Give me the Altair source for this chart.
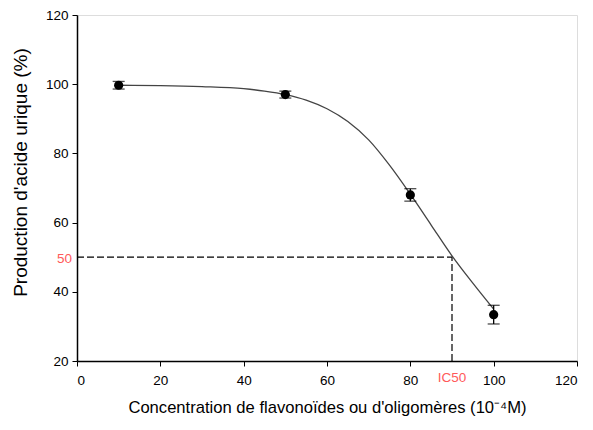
import altair as alt
import pandas as pd

# measured points
conc = [10, 50, 80, 100]
prod = [99.7, 97.0, 68.0, 33.4]
err = [1.1, 1.0, 1.8, 2.7]

# fitted curve
curve_x = [10, 20, 30, 40, 45, 50, 55, 60, 65, 70, 75, 80, 85, 90, 95, 100]
curve_y = [99.7, 99.6, 99.3, 98.7, 98.0, 97.0, 95.4, 92.9, 89.2, 83.9, 76.6, 68.2, 59.3, 50.4, 42.5, 35.0]

ic50_x = 90
ic50_y = 50

FONT = "Liberation Sans"
RED = "#ff5a5a"

pts = pd.DataFrame({"x": conc, "y": prod, "lo": [p - e for p, e in zip(prod, err)],
                    "hi": [p + e for p, e in zip(prod, err)]})
cur = pd.DataFrame({"x": curve_x, "y": curve_y})
hdash = pd.DataFrame({"x": [0], "x2": [ic50_x], "y": [ic50_y]})
vdash = pd.DataFrame({"x": [ic50_x], "y": [20], "y2": [ic50_y]})
lab50 = pd.DataFrame({"x": [0], "y": [ic50_y], "t": ["50"]})
labic = pd.DataFrame({"x": [ic50_x], "y": [20], "t": ["IC50"]})

xs = alt.Scale(domain=[0, 120], nice=False)
ys = alt.Scale(domain=[20, 120], nice=False)

xax = alt.Axis(values=[0, 20, 40, 60, 80, 100, 120], grid=False, tickSize=5,
               labelPadding=7, titlePadding=13, domainColor="black", tickColor="black",
               labelFontSize=13.5, titleFontSize=16.6, labelColor="black", titleColor="black",
               titleFontWeight="normal", labelFont=FONT, titleFont=FONT, domainWidth=1.5)
yax = alt.Axis(values=[20, 40, 60, 80, 100, 120], grid=False, tickSize=5,
               labelPadding=4, titlePadding=15, titleY=157, domainColor="black", tickColor="black",
               labelFontSize=13.5, titleFontSize=19, labelColor="black", titleColor="black",
               titleFontWeight="normal", labelFont=FONT, titleFont=FONT, domainWidth=1.5)

base_pts = alt.Chart(pts)

line = alt.Chart(cur).mark_line(color="#444444", strokeWidth=1.3, interpolate="monotone").encode(
    x=alt.X("x:Q", scale=xs, axis=xax,
            title="Concentration de flavonoïdes ou d'oligomères (10⁻⁴M)"),
    y=alt.Y("y:Q", scale=ys, axis=yax, title="Production d'acide urique (%)"),
)

hd = alt.Chart(hdash).mark_rule(color="black", strokeDash=[7, 3], strokeWidth=1.2).encode(
    x="x:Q", x2="x2:Q", y="y:Q")
vd = alt.Chart(vdash).mark_rule(color="black", strokeDash=[7, 3], strokeWidth=1.2).encode(
    x="x:Q", y="y:Q", y2="y2:Q")

bars = base_pts.mark_rule(color="black", strokeWidth=1.3).encode(x="x:Q", y="lo:Q", y2="hi:Q")
caps_lo = base_pts.mark_tick(color="black", orient="horizontal", size=12, thickness=1.3).encode(
    x="x:Q", y="lo:Q")
caps_hi = base_pts.mark_tick(color="black", orient="horizontal", size=12, thickness=1.3).encode(
    x="x:Q", y="hi:Q")
dots = base_pts.mark_point(filled=True, color="black", size=85, opacity=1).encode(
    x="x:Q", y="y:Q")

t50 = alt.Chart(lab50).mark_text(color=RED, font=FONT, fontSize=13.5, align="right",
                                 baseline="middle", dx=-5, dy=2).encode(
    x="x:Q", y="y:Q", text="t:N")
tic = alt.Chart(labic).mark_text(color=RED, font=FONT, fontSize=13.5, align="center",
                                 baseline="top", dy=10).encode(
    x="x:Q", y="y:Q", text="t:N")

chart = alt.layer(line, hd, vd, bars, caps_lo, caps_hi, dots, t50, tic).properties(
    width=500, height=346,
    autosize=alt.AutoSizeParams(type="none"),
    padding={"left": 69, "top": 7, "right": 8, "bottom": 61},
).configure_view(stroke="#555555", strokeWidth=1.3).configure(background="white")

chart.save("out.html", embed_options={"renderer": "svg", "actions": False})
